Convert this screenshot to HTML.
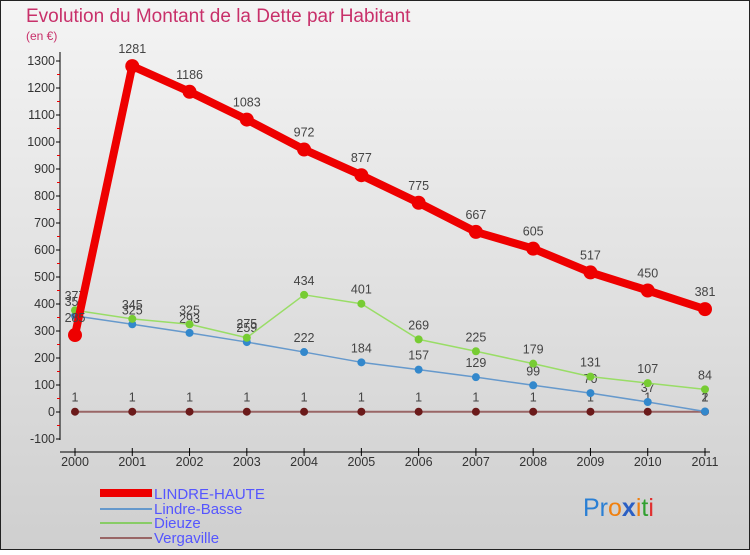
<!DOCTYPE html>
<html><head><meta charset="utf-8"><style>
body{margin:0}
svg text{font-family:"Liberation Sans",sans-serif}
</style></head><body>
<svg width="750" height="550" xmlns="http://www.w3.org/2000/svg">
<defs><linearGradient id="bg" x1="0" y1="0" x2="0" y2="1"><stop offset="0" stop-color="#f4f4f4"/><stop offset="1" stop-color="#cfcfcf"/></linearGradient></defs>
<rect x="0.5" y="0.5" width="749" height="549" fill="url(#bg)" stroke="#222"/>
<text x="26" y="22" font-size="19" fill="#c8306a">Evolution du Montant de la Dette par Habitant</text>
<text x="26" y="40" font-size="12" fill="#c8306a">(en €)</text>
<g id="axes"></g>
<g id="series"></g>
<g>
<rect x="100" y="489" width="52" height="8" fill="#e00"/>
<text x="154" y="499" font-size="15" fill="#55f">LINDRE-HAUTE</text>
<line x1="100" y1="509" x2="152" y2="509" stroke="#6699cc" stroke-width="2"/>
<text x="154" y="514" font-size="15" fill="#55f">Lindre-Basse</text>
<line x1="100" y1="523" x2="152" y2="523" stroke="#88cc66" stroke-width="2"/>
<text x="154" y="528" font-size="15" fill="#55f">Dieuze</text>
<line x1="100" y1="538" x2="152" y2="538" stroke="#996666" stroke-width="2"/>
<text x="154" y="543" font-size="15" fill="#55f">Vergaville</text>
</g>
<text x="583" y="516" font-size="25"><tspan fill="#2a7fd4">Pr</tspan><tspan fill="#f08010">o</tspan><tspan fill="#2a5fc4" font-weight="bold">x</tspan><tspan fill="#f08010">i</tspan><tspan fill="#30a030">t</tspan><tspan fill="#e03030">i</tspan></text>
</svg>
<script>
const years=[2000,2001,2002,2003,2004,2005,2006,2007,2008,2009,2010,2011];
const lindreHaute=[285,1281,1186,1083,972,877,775,667,605,517,450,381];
const lindreBasse=[356,325,293,259,222,184,157,129,99,70,37,2];
const dieuze=[377,345,325,275,434,401,269,225,179,131,107,84];
const vergaville=[1,1,1,1,1,1,1,1,1,1,1,1];
const yTicks=[-100,0,100,200,300,400,500,600,700,800,900,1000,1100,1200,1300];
const NS="http://www.w3.org/2000/svg";
const x=i=>75+i*(630/11);
const y=v=>412-v*0.27;
function mk(tag,attrs,parent){const e=document.createElementNS(NS,tag);for(const k in attrs)e.setAttribute(k,attrs[k]);parent.appendChild(e);return e;}
const ax=document.getElementById('axes');
let l=mk('line',{x1:60,y1:52,x2:60,y2:440,stroke:'#000'},ax);


l=mk('line',{x1:60,y1:452,x2:710,y2:452,stroke:'#000'},ax);


yTicks.forEach(v=>{
 mk('line',{x1:56,y1:y(v),x2:60,y2:y(v),stroke:'#000'},ax);
 if(v<1300)mk('line',{x1:57,y1:y(v+50),x2:60,y2:y(v+50),stroke:'#e00'},ax);
 const t=mk('text',{x:55,y:y(v)+4,'font-size':12.5,'text-anchor':'end',fill:'#333'},ax);
 t.textContent=v;
 
 
});
years.forEach((yr,i)=>{
 mk('line',{x1:x(i),y1:448,x2:x(i),y2:456,stroke:'#000'},ax);
 const t=mk('text',{x:x(i),y:466,'font-size':12.5,'text-anchor':'middle',fill:'#333'},ax);
 t.textContent=yr;
 
 
});
const sg=document.getElementById('series');
function series(data,color,dot,w,r,name){
 const g=mk('g',{},sg);
 
 
 mk('polyline',{points:data.map((v,i)=>x(i)+','+y(v)).join(' '),fill:'none',stroke:color,'stroke-width':w,'stroke-linejoin':'round'},g);
 data.forEach((v,i)=>{
  const c=mk('circle',{cx:x(i),cy:y(v),r:r,fill:dot},g);
  
  
  const t=mk('text',{x:x(i),y:y(v)-(r+6),'font-size':12.5,'text-anchor':'middle',fill:'#444'},g);
  t.textContent=v;
  
  
 });
}
series(vergaville,'#996666','#6b1a1a',2,4,'vergaville-series');
series(lindreBasse,'#6699cc','#3388cc',1.5,4,'lindre-basse-series');
series(dieuze,'#99dd66','#77cc33',1.5,4,'dieuze-series');
series(lindreHaute,'#ee0000','#ee0000',8,7,'lindre-haute-series');
</script>
</body></html>
